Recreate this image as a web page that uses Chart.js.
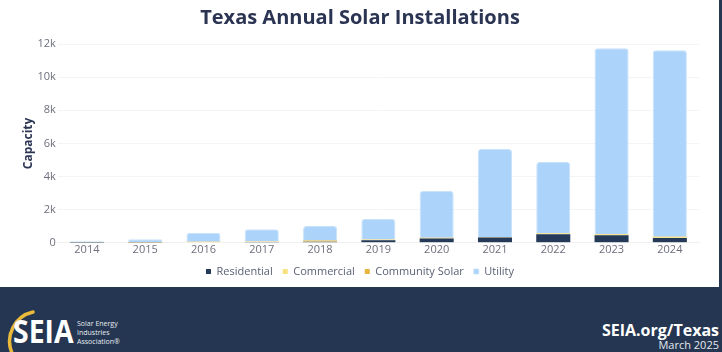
<!DOCTYPE html>
<html>
<head>
<meta charset="utf-8">
<script src="https://cdn.jsdelivr.net/npm/chart.js@4"></script>
<style>
  html, body { margin: 0; padding: 0; }
  body { width: 722px; height: 352px; background: #243651; position: relative; overflow: hidden; font-family: "Open Sans", sans-serif; }
  #panel { position: absolute; left: 0; top: 0; width: 719px; height: 287px; background: #fff; }
  #chartBox { position: absolute; left: 0; top: 0; width: 719px; height: 287px; }
  #footer { position: absolute; left: 0; top: 287px; width: 722px; height: 65px; color: #fff; }
  #site { position: absolute; right: 3px; top: 34px; font-weight: 700; font-size: 16px; text-align: right; line-height: 18px; }
  #date { position: absolute; right: 3px; top: 51px; font-size: 11px; color: #e4e8ef; line-height: 13px; }
  #logo { position: absolute; left: 0; top: 14px; width: 130px; height: 51px; }
  #seia { position: absolute; left: 13px; top: 11px; font-weight: 700; font-size: 33px; line-height: 38px; transform: scaleX(0.86); transform-origin: left top; }
  #assoc { position: absolute; left: 77px; top: 18px; font-size: 7px; line-height: 9px; color: #e8ecf2; }
</style>
</head>
<body>
<div id="panel"></div>
<div id="chartBox"><canvas id="solarChart"></canvas></div>
<div id="footer">
  <div id="logo">
    <svg width="40" height="51" style="position:absolute;left:0;top:0">
      <path d="M 33 11 A 30 30 0 0 0 12 52" fill="none" stroke="#e8b93a" stroke-width="3.5" stroke-linecap="round"/>
    </svg>
    <div id="seia">SEIA</div>
    <div id="assoc">Solar Energy<br>Industries<br>Association®</div>
  </div>
  <div id="site">SEIA.org/Texas</div>
  <div id="date">March 2025</div>
</div>
<script>
const years = ['2014', '2015', '2016', '2017', '2018', '2019', '2020', '2021', '2022', '2023', '2024'];
// MW installed per segment
const residential = [10, 15, 40, 50, 70, 160, 260, 320, 520, 460, 290];
const commercial = [5, 10, 15, 15, 30, 30, 30, 20, 40, 50, 50];
const communitySolar = [0, 30, 5, 10, 40, 10, 10, 10, 15, 15, 20];
const utility = [85, 165, 540, 745, 880, 1230, 2830, 5310, 4305, 11215, 11260];
const yTicks = [0, 2000, 4000, 6000, 8000, 10000, 12000];

const tickFmt = v => v === 0 ? '0' : (v / 1000) + 'k';

const ctx = document.getElementById('solarChart').getContext('2d');
new Chart(ctx, {
    type: 'bar',
    data: {
        labels: years,
        datasets: [
            { label: 'Residential', data: residential, backgroundColor: '#243a58' },
            { label: 'Commercial', data: commercial, backgroundColor: '#f7e27e' },
            { label: 'Community Solar', data: communitySolar, backgroundColor: '#e6b53c' },
            {
                label: 'Utility',
                data: utility,
                backgroundColor: '#acd3f9',
                borderColor: '#c8e2fb',
                borderWidth: { top: 1, left: 1, right: 1, bottom: 0 },
                borderRadius: { topLeft: 3, topRight: 3 },
                borderSkipped: 'bottom'
            }
        ]
    },
    options: {
        responsive: true,
        maintainAspectRatio: false,
        animation: false,
        layout: { padding: { left: 21, right: 20, top: 0, bottom: 0 } },
        datasets: {
            bar: { categoryPercentage: 0.8, barPercentage: 0.73 }
        },
        plugins: {
            title: {
                display: true,
                text: 'Texas Annual Solar Installations',
                color: '#2b3553',
                font: { family: 'Open Sans', size: 20, weight: 'bold' },
                padding: { top: 6, bottom: 14 }
            },
            legend: {
                position: 'bottom',
                labels: {
                    usePointStyle: true,
                    pointStyle: 'rect',
                    boxWidth: 5,
                    boxHeight: 5,
                    padding: 10,
                    color: '#5b6074',
                    font: { family: 'Open Sans', size: 11 }
                }
            },
            tooltip: { enabled: false }
        },
        scales: {
            x: {
                stacked: true,
                grid: { display: false, drawTicks: false },
                border: { color: '#f0f0f0' },
                ticks: { color: '#6d6f7c', font: { family: 'Open Sans', size: 11 }, padding: 0 }
            },
            y: {
                stacked: true,
                min: 0,
                max: 12000,
                afterBuildTicks: axis => { axis.ticks = yTicks.map(v => ({ value: v })); },
                grid: { color: '#f3f4f6', drawTicks: false },
                border: { display: false },
                ticks: {
                    color: '#6d6f7c',
                    font: { family: 'Open Sans', size: 11 },
                    padding: 2,
                    callback: tickFmt
                },
                title: {
                    display: true,
                    text: 'Capacity',
                    color: '#2b3553',
                    font: { family: 'Open Sans', size: 12, weight: 'bold' },
                    padding: 0
                }
            }
        }
    }
});
</script>
</body>
</html>
